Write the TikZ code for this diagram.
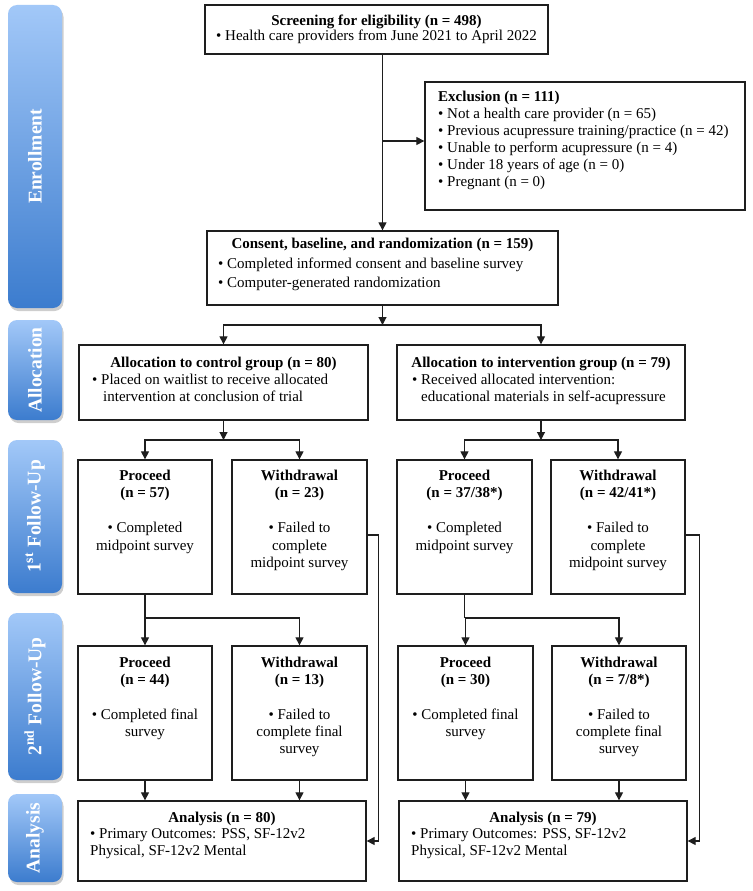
\documentclass[tikz,border=0pt]{standalone}
\usepackage{fontspec}
\setmainfont{Liberation Serif}
\usetikzlibrary{arrows.meta,shadows,calc}
\definecolor{bartop}{RGB}{162,200,248}
\definecolor{barbot}{RGB}{60,124,206}
\definecolor{ln}{RGB}{30,30,30}
\tikzset{
  sidebar/.style={rounded corners=9pt, top color=bartop, bottom color=barbot,
    text=white, font=\fontsize{19.5}{22}\selectfont\bfseries, inner sep=0pt,
    minimum width=54pt,
    drop shadow={shadow xshift=1.5pt, shadow yshift=-3pt, opacity=0.35, fill=black!55}},
  box/.style={draw=ln, line width=1.3pt, fill=white, inner sep=0pt},
  conn/.style={draw=ln, line width=1.1pt, -{Triangle[length=8pt,width=8pt]}},
  plain/.style={draw=ln, line width=1.1pt},
  txt/.style={inner sep=0pt, text=black},
  tb/.style={txt, font=\fontsize{15}{17}\selectfont\bfseries},
}
\begin{document}
\begin{tikzpicture}[x=1pt,y=-1pt]
\useasboundingbox (0,0) rectangle (752,891);

% ---- phase bars ----
\node[sidebar, minimum height=303pt] (barE) at (35,156.5) {\rotatebox{90}{Enrollment}};
\node[sidebar, minimum height=100pt] (barA) at (35,370) {\rotatebox{90}{Allocation}};
\node[sidebar, minimum height=153pt] (barF1) at (35,516.5) {\rotatebox{90}{1\textsuperscript{st} Follow-Up}};
\node[sidebar, minimum height=167pt] (barF2) at (35,696.5) {\rotatebox{90}{2\textsuperscript{nd} Follow-Up}};
\node[sidebar, minimum height=88pt] (barAn) at (35,838) {\rotatebox{90}{Analysis}};

% ---- boxes ----
\node[box, minimum width=343pt, minimum height=49pt, align=center,
      font=\fontsize{15}{14.5}\selectfont] (screen) at (376.5,29.5)
  {\textbf{Screening for eligibility (n = 498)}\\• Health care providers from June 2021 to April 2022};
\node[box, minimum width=320pt, minimum height=128pt] (excl) at (585,146) {};
\node[box, minimum width=351pt, minimum height=74pt] (consent) at (382.5,268) {};
\node[box, minimum width=289pt, minimum height=75pt] (allocC) at (223.5,382.5) {};
\node[box, minimum width=288pt, minimum height=75pt] (allocI) at (541,382.5) {};
\node[box, minimum width=134pt, minimum height=134pt] (p1C) at (145,527) {};
\node[box, minimum width=135pt, minimum height=134pt] (w1C) at (299.5,527) {};
\node[box, minimum width=135pt, minimum height=134pt] (p1I) at (464.5,527) {};
\node[box, minimum width=134pt, minimum height=134pt] (w1I) at (618,527) {};
\node[box, minimum width=134pt, minimum height=134pt] (p2C) at (145,713) {};
\node[box, minimum width=135pt, minimum height=134pt] (w2C) at (299.5,713) {};
\node[box, minimum width=135pt, minimum height=134pt] (p2I) at (465.5,713) {};
\node[box, minimum width=134pt, minimum height=134pt] (w2I) at (619,713) {};
\node[box, minimum width=288pt, minimum height=80pt] (anC) at (222,841) {};
\node[box, minimum width=288pt, minimum height=80pt] (anI) at (543,841) {};

% ---- texts ----
\node[txt, anchor=north west, align=left, font=\fontsize{15}{17}\selectfont] (excl-t) at (438,89.1)
  {\strut\textbf{Exclusion (n = 111)}\\
   • Not a health care provider (n = 65)\\
   • Previous acupressure training/practice (n = 42)\\
   • Unable to perform acupressure (n = 4)\\
   • Under 18 years of age (n = 0)\\
   • Pregnant (n = 0)};
\node[tb, anchor=base] (consent-h) at (382.5,248) {Consent, baseline, and randomization (n = 159)};
\node[txt, anchor=north west, align=left, font=\fontsize{15}{18.5}\selectfont] (consent-t) at (218,255.55)
  {\strut• Completed informed consent and baseline survey\\
   • Computer-generated randomization};

\node[tb, anchor=base] (allocC-h) at (223.5,367) {Allocation to control group (n = 80)};
\node[txt, anchor=north west, align=left, font=\fontsize{15}{17}\selectfont] (allocC-t) at (92,372.1)
  {\strut• Placed on waitlist to receive allocated\\
   \hspace*{11pt}intervention at conclusion of trial};
\node[tb, anchor=base] (allocI-h) at (541,367) {Allocation to intervention group (n = 79)};
\node[txt, anchor=north west, align=left, font=\fontsize{15}{17}\selectfont] (allocI-t) at (412,372.1)
  {\strut• Received allocated intervention:\\
   \hspace*{9pt}educational materials in self-acupressure};

\tikzset{f1/.style={txt, anchor=north, align=center, font=\fontsize{15}{17.5}\selectfont},
         f2/.style={txt, anchor=north, align=center, font=\fontsize{15}{17.3}\selectfont}}
\node[f1] (p1C-t) at (145,467.75) {\strut\textbf{Proceed}\\\textbf{(n = 57)}\\\strut\\• Completed\\midpoint survey};
\node[f1] (w1C-t) at (299.5,467.75) {\strut\textbf{Withdrawal}\\\textbf{(n = 23)}\\\strut\\• Failed to\\complete\\midpoint survey};
\node[f1] (p1I-t) at (464.5,467.75) {\strut\textbf{Proceed}\\\textbf{(n = 37/38*)}\\\strut\\• Completed\\midpoint survey};
\node[f1] (w1I-t) at (618,467.75) {\strut\textbf{Withdrawal}\\\textbf{(n = 42/41*)}\\\strut\\• Failed to\\complete\\midpoint survey};

\node[f2] (p2C-t) at (145,654.9) {\strut\textbf{Proceed}\\\textbf{(n = 44)}\\\strut\\• Completed final\\survey};
\node[f2] (w2C-t) at (299.5,654.9) {\strut\textbf{Withdrawal}\\\textbf{(n = 13)}\\\strut\\• Failed to\\complete final\\survey};
\node[f2] (p2I-t) at (465.5,654.9) {\strut\textbf{Proceed}\\\textbf{(n = 30)}\\\strut\\• Completed final\\survey};
\node[f2] (w2I-t) at (619,654.9) {\strut\textbf{Withdrawal}\\\textbf{(n = 7/8*)}\\\strut\\• Failed to\\complete final\\survey};

\node[tb, anchor=base] (anC-h) at (222,822) {Analysis (n = 80)};
\node[txt, anchor=north west, align=left, font=\fontsize{15}{16.5}\selectfont] (anC-t) at (90,826.95)
  {\strut• Primary Outcomes: PSS, SF-12v2\\Physical, SF-12v2 Mental};
\node[tb, anchor=base] (anI-h) at (543,822) {Analysis (n = 79)};
\node[txt, anchor=north west, align=left, font=\fontsize{15}{16.5}\selectfont] (anI-t) at (411,826.95)
  {\strut• Primary Outcomes: PSS, SF-12v2\\Physical, SF-12v2 Mental};

% ---- junctions ----
\coordinate (j0) at (382.5,141);
\coordinate (j1) at (382.5,325);
\coordinate (j2) at (223.5,440);
\coordinate (j3) at (541,440);
\coordinate (j4) at (145,618);
\coordinate (j5) at (464.5,618);

% ---- connectors ----
\draw[conn] (screen.south -| consent.north) -- (consent.north);
\draw[conn] (j0) -- (j0 -| excl.west);
\draw[conn] (consent.south) -- (j1);
\draw[conn] (j1) -| (allocC.north);
\draw[conn] (j1) -| (allocI.north);
\draw[conn] (allocC.south) -- (j2);
\draw[conn] (j2) -| (p1C.north);
\draw[conn] (j2) -| (w1C.north);
\draw[conn] (allocI.south) -- (j3);
\draw[conn] (j3) -| (p1I.north);
\draw[conn] (j3) -| (w1I.north);
\draw[plain] (p1C.south) -- (j4);
\draw[conn] (j4) -- (p2C.north);
\draw[conn] (j4) -| (w2C.north);
\draw[plain] (p1I.south) -- (j5);
\draw[conn] (j5) -| (p2I.north);
\draw[conn] (j5) -| (w2I.north);
\draw[conn] (p2C.south) -- (anC.north -| p2C.south);
\draw[conn] (w2C.south) -- (anC.north -| w2C.south);
\draw[conn] (p2I.south) -- (anI.north -| p2I.south);
\draw[conn] (w2I.south) -- (anI.north -| w2I.south);
\draw[conn] ([yshift=-8pt]w1C.east) -- ++(11,0) |- (anC.east);
\draw[conn] ([yshift=-8pt]w1I.east) -- ++(14,0) |- (anI.east);
\end{tikzpicture}
\end{document}
